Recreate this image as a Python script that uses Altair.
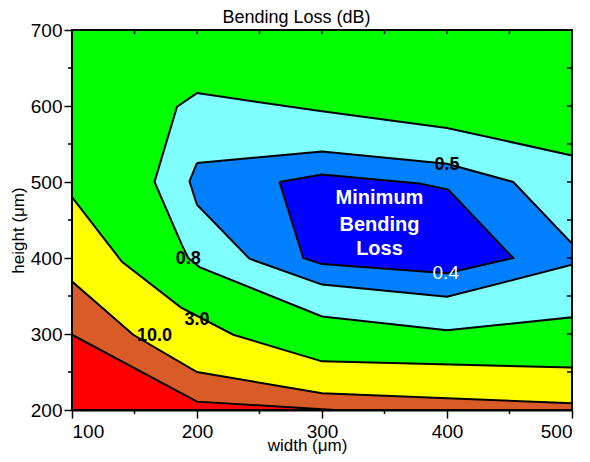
import altair as alt
import pandas as pd

W, H = 500, 380
FONT = "Liberation Sans"

# ---- contour band polygons (width µm, height µm) ----
green_x = [100, 500, 500, 100]
green_y = [200, 200, 700, 700]

cyan_x = [500, 400, 300, 200, 184, 166, 188, 193, 202, 300, 400, 500]
cyan_y = [535, 571, 593, 617, 599, 500, 417, 400, 388, 323, 305, 322]

mblue_x = [200, 300, 400, 453, 500, 500, 400, 300, 242, 200, 194]
mblue_y = [525, 540, 524, 500, 419, 391, 349, 365, 399, 470, 501]

dblue_x = [266, 300, 378, 401, 453, 400, 300, 285]
dblue_y = [500, 510, 498, 490, 400, 380, 392, 400]

yellow_x = [100, 100, 140, 187, 229, 300, 500, 500]
yellow_y = [200, 480, 395, 335, 299, 264, 256, 200]

orange_x = [100, 100, 149, 200, 300, 500, 500]
orange_y = [200, 369, 299, 250, 222, 209, 200]

red_x = [100, 100, 200, 310]
red_y = [200, 299, 211, 200]

bands = [
    (green_x, green_y, "#00FF00"),
    (cyan_x, cyan_y, "#80FFFF"),
    (mblue_x, mblue_y, "#0080FF"),
    (dblue_x, dblue_y, "#0000FF"),
    (yellow_x, yellow_y, "#FFFF00"),
    (orange_x, orange_y, "#D95B27"),
    (red_x, red_y, "#FF0000"),
]

# ---- texts ----
title_text = ["Bending Loss (dB)"]

lab_text = ["0.5", "0.8", "3.0", "10.0"]
lab_x = [400, 193, 200, 166]
lab_y = [523, 399, 318, 298]

low_text = ["0.4"]
low_x = [399]
low_y = [380]

note_text = ["Minimum", "Bending", "Loss"]
note_x = [346, 346, 346]
note_y = [479, 443.5, 412]

# ---- tick positions ----
major_x = [100, 200, 300, 400, 500]
major_y = [200, 300, 400, 500, 600, 700]
minor_x = [150, 250, 350, 450]
minor_y = [250, 350, 450, 550, 650]
inner_x = [150, 200, 250, 300, 350, 400, 450]
inner_y = [250, 300, 350, 400, 450, 500, 550, 600, 650]

xs = alt.Scale(domain=[100, 500], nice=False, zero=False)
ys = alt.Scale(domain=[200, 700], nice=False, zero=False)

xaxis = alt.Axis(values=major_x, tickSize=8, tickColor="black", tickWidth=1.5,
                 domainColor="black", domainWidth=2, labelFont=FONT, labelFontSize=19,
                 labelColor="black", labelPadding=4, grid=False,
                 title="width (μm)", titleFont=FONT, titleFontSize=17,
                 titleFontWeight="normal", titleColor="black",
                 titleX=235, titleY=40, titleBaseline="alphabetic")
yaxis = alt.Axis(values=major_y, tickSize=8, tickColor="black", tickWidth=1.5,
                 domainColor="black", domainWidth=2, labelFont=FONT, labelFontSize=19,
                 labelColor="black", labelPadding=2, grid=False,
                 title="height (μm)", titleFont=FONT, titleFontSize=17,
                 titleFontWeight="normal", titleColor="black",
                 titleX=-49, titleY=200, titleBaseline="alphabetic")


def X(field):
    return alt.X(field, scale=xs, axis=xaxis)


def Y(field):
    return alt.Y(field, scale=ys, axis=yaxis)


layers = []
for k, (px, py, col) in enumerate(bands):
    xx = list(px) + [px[0]]
    yy = list(py) + [py[0]]
    df = pd.DataFrame({"w": xx, "h": yy, "i": list(range(len(xx)))})
    layers.append(
        alt.Chart(df).mark_line(fill=col, stroke="black", strokeWidth=2,
                                fillOpacity=1, interpolate="linear").encode(
            x=X("w:Q"), y=Y("h:Q"), order=alt.Order("i:Q"))
    )

lab_df = pd.DataFrame({"t": lab_text, "w": lab_x, "h": lab_y})
layers.append(
    alt.Chart(lab_df).mark_text(font=FONT, fontSize=18, fontWeight="bold",
                                color="black").encode(
        x=X("w:Q"), y=Y("h:Q"), text="t:N")
)
low_df = pd.DataFrame({"t": low_text, "w": low_x, "h": low_y})
layers.append(
    alt.Chart(low_df).mark_text(font=FONT, fontSize=19, fontWeight="normal",
                                color="white").encode(
        x=X("w:Q"), y=Y("h:Q"), text="t:N")
)
note_df = pd.DataFrame({"t": note_text, "w": note_x, "h": note_y})
layers.append(
    alt.Chart(note_df).mark_text(font=FONT, fontSize=20, fontWeight="bold",
                                 color="white").encode(
        x=X("w:Q"), y=Y("h:Q"), text="t:N")
)

# chart title, placed just above the plot frame
layers.append(
    alt.Chart(pd.DataFrame({"t": title_text})).mark_text(
        font=FONT, fontSize=18, fontWeight="normal", color="black",
        baseline="alphabetic", align="center").encode(
        x=alt.value(224.5), y=alt.value(-7), text="t:N")
)

# minor / inner ticks
layers.append(alt.Chart(pd.DataFrame({"w": minor_x})).mark_rule(color="black", strokeWidth=1.5)
              .encode(x=X("w:Q"), y=alt.value(H), y2=alt.value(H + 4)))
layers.append(alt.Chart(pd.DataFrame({"h": minor_y})).mark_rule(color="black", strokeWidth=1.5)
              .encode(y=Y("h:Q"), x=alt.value(-4), x2=alt.value(0)))
layers.append(alt.Chart(pd.DataFrame({"w": inner_x})).mark_rule(color="black", strokeWidth=1.5)
              .encode(x=X("w:Q"), y=alt.value(0), y2=alt.value(4)))
layers.append(alt.Chart(pd.DataFrame({"h": inner_y})).mark_rule(color="black", strokeWidth=1.5)
              .encode(y=Y("h:Q"), x=alt.value(W - 5), x2=alt.value(W)))

chart = alt.layer(*layers).properties(
    width=W, height=H,
    autosize=alt.AutoSizeParams(type="none"),
    padding={"left": 64, "top": 22, "right": 10, "bottom": 44},
).configure_view(stroke="black", strokeWidth=2).configure(background="white")

chart.save("out.html", embed_options={"renderer": "svg", "actions": False})
